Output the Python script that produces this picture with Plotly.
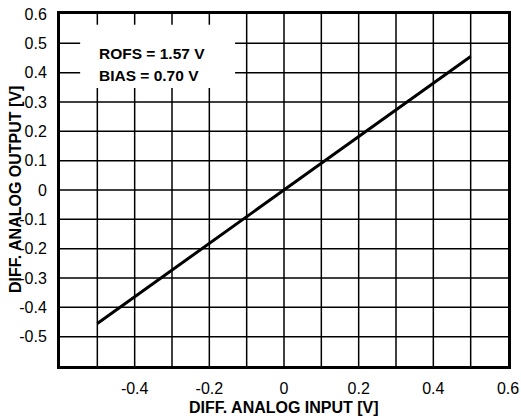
import plotly.graph_objects as go

x_input = [-0.5, 0.0, 0.5]
y_output = [-0.455, 0.0, 0.455]

x_tickvals = [-0.4, -0.2, 0.0, 0.2, 0.4, 0.6]
x_ticktext = ["-0.4", "-0.2", "0", "0.2", "0.4", "0.6"]
y_tickvals = [-0.5, -0.4, -0.3, -0.2, -0.1, 0.0, 0.1, 0.2, 0.3, 0.4, 0.5, 0.6]
y_ticktext = ["-0.5", "-0.4", "-0.3", "-0.2", "-0.1", "0", "0.1", "0.2", "0.3", "0.4", "0.5", "0.6"]
grid_vals = [round(-0.5 + 0.1 * i, 1) for i in range(11)]

note_lines = ["ROFS = 1.57 V", "BIAS = 0.70 V"]
note_y = [0.467, 0.389]

font = "Liberation Sans, Arial, sans-serif"

fig = go.Figure()
fig.add_trace(go.Scatter(x=x_input, y=y_output, mode="lines",
                         line=dict(color="black", width=3), showlegend=False,
                         hoverinfo="skip"))

shapes = []
for g in grid_vals:
    shapes.append(dict(type="line", xref="x", yref="paper", x0=g, x1=g, y0=0, y1=1,
                       line=dict(color="black", width=1.5), layer="below"))
    shapes.append(dict(type="line", xref="paper", yref="y", x0=0, x1=1, y0=g, y1=g,
                       line=dict(color="black", width=1.5), layer="below"))
shapes.append(dict(type="rect", xref="x", yref="y", x0=-0.546, x1=-0.131, y0=0.348, y1=0.563,
                   fillcolor="white", line=dict(width=0), layer="below"))

annotations = []
for t, yv in zip(note_lines, note_y):
    annotations.append(dict(x=-0.5, y=yv, xref="x", yref="y", text="<b>%s</b>" % t,
                            showarrow=False, xanchor="left", yanchor="middle",
                            font=dict(family=font, size=15.5, color="black")))
annotations.append(dict(x=0.5, y=0, xref="paper", yref="paper", yshift=-41,
                        text="<b>DIFF. ANALOG INPUT [V]</b>", showarrow=False,
                        xanchor="center", yanchor="middle",
                        font=dict(family=font, size=16, color="black")))
annotations.append(dict(x=0, y=0.5, xref="paper", yref="paper", xshift=-45,
                        text="<b>DIFF. ANALOG OUTPUT [V]</b>", showarrow=False, textangle=-90,
                        xanchor="center", yanchor="middle",
                        font=dict(family=font, size=16, color="black")))

fig.update_layout(
    width=521, height=416,
    margin=dict(l=60, r=13, t=14, b=50),
    plot_bgcolor="white", paper_bgcolor="white",
    shapes=shapes, annotations=annotations,
    font=dict(family=font, size=16, color="black"),
    xaxis=dict(range=[-0.6, 0.6], tickvals=x_tickvals, ticktext=x_ticktext,
               showgrid=False, zeroline=False, showline=True, linecolor="black",
               linewidth=3, mirror=True, ticks="", ticklabelstandoff=6, automargin=False),
    yaxis=dict(range=[-0.6, 0.6], tickvals=y_tickvals, ticktext=y_ticktext,
               showgrid=False, zeroline=False, showline=True, linecolor="black",
               linewidth=3, mirror=True, ticks="", ticklabelstandoff=7, automargin=False),
)

fig.write_html("out.html")
